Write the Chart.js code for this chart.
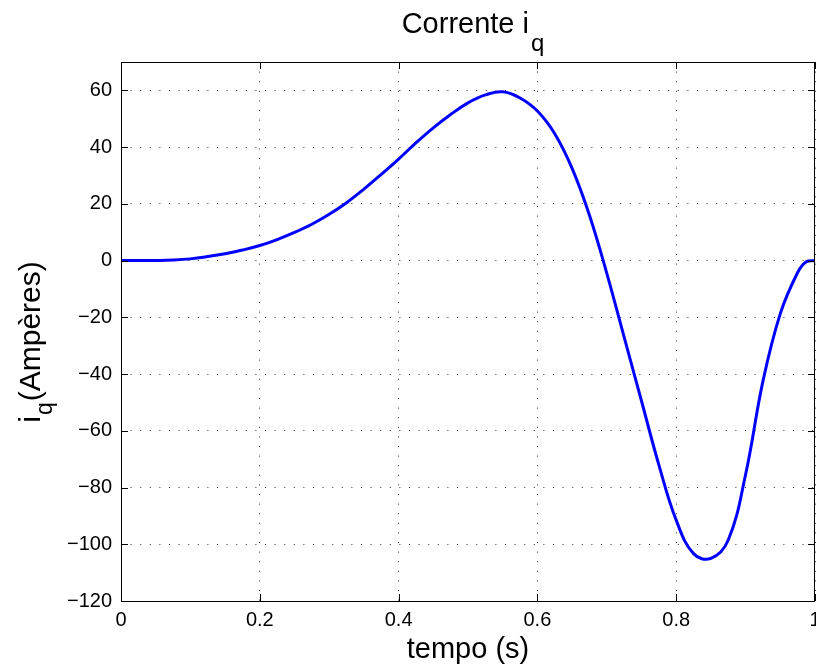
<!DOCTYPE html>
<html>
<head>
<meta charset="utf-8">
<script src="https://cdn.jsdelivr.net/npm/chart.js@4"></script>
<style>
  html, body { margin: 0; padding: 0; background: #fff; }
  #wrap { width: 816px; height: 670px; position: relative; }
</style>
</head>
<body>
<div id="wrap"><canvas id="c" width="816" height="670"></canvas></div>
<script>
// ---- data ----
const tempo = [0, 0.025, 0.05, 0.075, 0.1, 0.125, 0.15, 0.175, 0.2, 0.225, 0.25, 0.275, 0.3,
  0.325, 0.35, 0.375, 0.4, 0.425, 0.45, 0.475, 0.5, 0.525, 0.55, 0.575, 0.6, 0.625, 0.65,
  0.675, 0.7, 0.725, 0.75, 0.775, 0.8, 0.825, 0.85, 0.875, 0.9, 0.925, 0.95, 0.975, 0.9875, 1.0];
const iq = [0, 0, 0.05, 0.2, 0.6, 1.4, 2.4, 3.7, 5.3, 7.4, 9.9, 12.8, 16.3,
  20.4, 25.2, 30.4, 35.8, 41.5, 46.8, 51.5, 55.6, 58.4, 59.5, 57.3, 52.7, 44.7, 32.5,
  16, -4.5, -27, -49.5, -72, -91.5, -103.3, -105, -98.5, -75.4, -42.5, -18.7, -4.2, -0.4, 0];
const xTickVals = [0, 0.2, 0.4, 0.6, 0.8, 1];
const yTickVals = [-120, -100, -80, -60, -40, -20, 0, 20, 40, 60];
const titleMain = 'Corrente i';
const titleSub = 'q';
const xLabel = 'tempo (s)';
const yLabelMain = 'i';
const yLabelSub = 'q';
const yLabelRest = '(Ampères)';

const FONT = '"Liberation Sans", Arial, Helvetica, sans-serif';

const framePlugin = {
  id: 'frame',
  afterDraw(chart) {
    const ctx = chart.ctx;
    const a = chart.chartArea;
    const xs = chart.scales.x, ys = chart.scales.y;
    ctx.save();
    ctx.strokeStyle = '#000';
    ctx.lineWidth = 1;
    // frame
    ctx.strokeRect(Math.round(a.left) + 0.5, Math.round(a.top) + 0.5,
      Math.round(a.right - a.left) - 1, Math.round(a.bottom - a.top));
    // inward tick marks
    const TL = 7;
    ctx.beginPath();
    xs.ticks.forEach(t => {
      const px = Math.round(xs.getPixelForValue(t.value)) + 0.5;
      ctx.moveTo(px, a.bottom); ctx.lineTo(px, a.bottom - TL);
      ctx.moveTo(px, a.top); ctx.lineTo(px, a.top + TL);
    });
    ys.ticks.forEach(t => {
      const py = Math.round(ys.getPixelForValue(t.value)) + 0.5;
      ctx.moveTo(a.left, py); ctx.lineTo(a.left + TL, py);
      ctx.moveTo(a.right, py); ctx.lineTo(a.right - TL, py);
    });
    ctx.stroke();

    ctx.fillStyle = '#000';
    ctx.textBaseline = 'alphabetic';
    // title
    ctx.font = '29px ' + FONT;
    const w1 = ctx.measureText(titleMain).width;
    ctx.font = '24px ' + FONT;
    const w2 = ctx.measureText(titleSub).width;
    const tx = 473 - (w1 + 2 + w2) / 2;
    ctx.font = '29px ' + FONT;
    ctx.textAlign = 'left';
    ctx.fillText(titleMain, tx, 33);
    ctx.font = '24px ' + FONT;
    ctx.fillText(titleSub, tx + w1 + 2, 51);

    // x label
    ctx.font = '29px ' + FONT;
    ctx.textAlign = 'center';
    ctx.fillText(xLabel, (a.left + a.right) / 2, 658);

    // y label (rotated)
    ctx.textAlign = 'left';
    ctx.font = '30px ' + FONT;
    const wi = ctx.measureText(yLabelMain).width;
    const wr = ctx.measureText(yLabelRest).width;
    ctx.font = '23px ' + FONT;
    const wq = ctx.measureText(yLabelSub).width;
    const total = wi + 1 + wq + 1 + wr;
    const cy = 342;
    ctx.translate(40, cy + total / 2);
    ctx.rotate(-Math.PI / 2);
    ctx.font = '30px ' + FONT;
    ctx.fillText(yLabelMain, 0, 0);
    ctx.font = '23px ' + FONT;
    ctx.fillText(yLabelSub, wi + 1, 12);
    ctx.font = '30px ' + FONT;
    ctx.fillText(yLabelRest, wi + 1 + wq + 1, 0);
    ctx.restore();
  }
};

new Chart(document.getElementById('c'), {
  type: 'line',
  data: {
    datasets: [{
      data: tempo.map((t, i) => ({ x: t, y: iq[i] })),
      borderColor: '#0000ff',
      borderWidth: 3,
      pointRadius: 0,
      fill: false,
      tension: 0.4
    }]
  },
  options: {
    responsive: false,
    animation: false,
    devicePixelRatio: 1,
    layout: { padding: { top: 62, right: 1, bottom: 0, left: 0 } },
    plugins: { legend: { display: false }, title: { display: false }, tooltip: { enabled: false } },
    scales: {
      x: {
        type: 'linear',
        min: 0, max: 1,
        afterBuildTicks(scale) { scale.ticks = xTickVals.map(v => ({ value: v })); },
        afterFit(scale) { scale.height = 69; scale.paddingLeft = 0; scale.paddingRight = 0; },
        ticks: {
          color: '#000', padding: 7, maxRotation: 0, autoSkip: false,
          font: { family: FONT, size: 20 },
          callback: v => String(v)
        },
        grid: { color: 'rgba(0,0,0,0.8)', lineWidth: 1, drawTicks: false },
        border: { display: false, dash: [1, 8.6] }
      },
      y: {
        type: 'linear',
        min: -120, max: 70,
        afterBuildTicks(scale) { scale.ticks = yTickVals.map(v => ({ value: v })); },
        afterFit(scale) { scale.width = 121; scale.paddingTop = 0; scale.paddingBottom = 0; },
        ticks: {
          color: '#000', padding: 9, autoSkip: false,
          font: { family: FONT, size: 20 },
          callback: v => String(v).replace('-', '\u2212')
        },
        grid: { color: 'rgba(0,0,0,0.8)', lineWidth: 1, drawTicks: false },
        border: { display: false, dash: [1, 8.6] }
      }
    }
  },
  plugins: [framePlugin]
});
</script>
</body>
</html>
